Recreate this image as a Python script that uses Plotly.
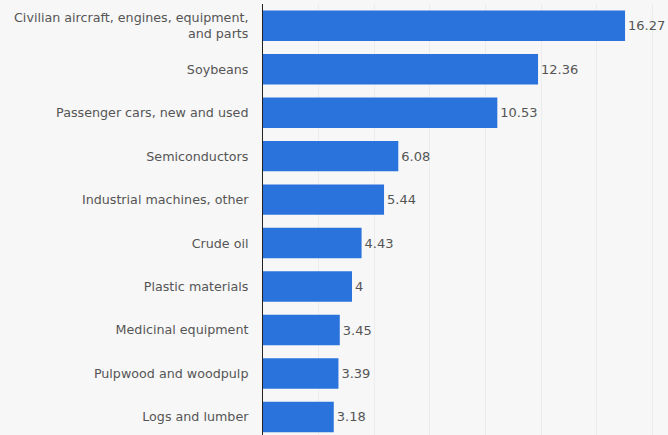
import plotly.graph_objects as go

# Export values, billion U.S. dollars
categories = [
    "Civilian aircraft, engines, equipment,<br>and parts",
    "Soybeans",
    "Passenger cars, new and used",
    "Semiconductors",
    "Industrial machines, other",
    "Crude oil",
    "Plastic materials",
    "Medicinal equipment",
    "Pulpwood and woodpulp",
    "Logs and lumber",
]
values = [16.27, 12.36, 10.53, 6.08, 5.44, 4.43, 4, 3.45, 3.39, 3.18]
value_labels = ["16.27", "12.36", "10.53", "6.08", "5.44", "4.43", "4", "3.45", "3.39", "3.18"]

BAR = "#2a73dc"
TEXT = "#555555"
BG = "#f7f7f7"

fig = go.Figure(
    go.Bar(
        x=values,
        y=categories,
        orientation="h",
        marker=dict(color=BAR, line=dict(width=0)),
        text=value_labels,
        textposition="outside",
        textfont=dict(family="DejaVu Sans", size=13, color=TEXT),
        cliponaxis=False,
        hoverinfo="skip",
    )
)

fig.update_layout(
    width=668,
    height=435,
    margin=dict(l=263, r=0, t=4, b=0),
    paper_bgcolor=BG,
    plot_bgcolor=BG,
    bargap=0.3,
    showlegend=False,
    font=dict(family="DejaVu Sans", size=12.7, color=TEXT),
)

fig.update_xaxes(
    range=[0, 18.2],
    dtick=2.5,
    showticklabels=False,
    showgrid=True,
    gridcolor="#ececec",
    gridwidth=1,
    zeroline=False,
    showline=False,
)

fig.update_yaxes(
    type="category",
    categoryorder="array",
    categoryarray=categories,
    range=[9.415, -0.5],
    showgrid=False,
    showline=True,
    linecolor="#222222",
    linewidth=1,
    ticks="",
    ticklabelstandoff=11,
    tickfont=dict(family="DejaVu Sans", size=12.7, color=TEXT),
)

fig.write_html("out.html")
